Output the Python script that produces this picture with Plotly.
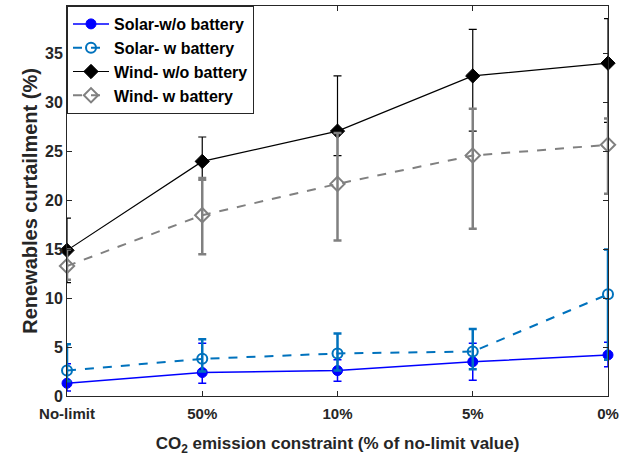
import plotly.graph_objects as go

categories = ["No-limit", "50%", "10%", "5%", "0%"]

solar_wo = [1.3, 2.4, 2.6, 3.5, 4.2]
solar_wo_hi = [3.3, 5.4, 3.7, 5.4, 5.5]
solar_wo_lo = [0.5, 1.3, 1.5, 1.6, 3.0]

solar_w = [2.6, 3.8, 4.35, 4.55, 10.4]
solar_w_hi = [5.3, 5.8, 6.4, 6.85, 15.0]
solar_w_lo = [1.5, 2.5, 2.6, 2.74, 3.7]

wind_wo = [14.9, 24.0, 27.1, 32.75, 34.05]
wind_wo_hi = [18.2, 26.5, 32.75, 37.5, 38.6]
wind_wo_lo = [11.6, 22.1, 24.6, 27.1, 28.0]

wind_w = [13.3, 18.5, 21.7, 24.6, 25.7]
wind_w_hi = [15.0, 22.3, 26.9, 29.4, 28.4]
wind_w_lo = [11.9, 14.5, 15.9, 17.1, 20.7]

y_ticks = [0, 5, 10, 15, 20, 25, 30, 35]

FONT = "Arial, Liberation Sans, sans-serif"
TXT = "#262626"


def err(vals, hi, lo, color, thick, w):
    return dict(type="data", symmetric=False,
                array=[h - v for h, v in zip(hi, vals)],
                arrayminus=[v - l for v, l in zip(vals, lo)],
                color=color, thickness=thick, width=w)


fig = go.Figure()

fig.add_trace(go.Scatter(
    x=categories, y=solar_wo, name="Solar-w/o battery", mode="lines+markers",
    line=dict(color="#0000FF", width=1.5),
    marker=dict(symbol="circle", size=10, color="#0000FF", line=dict(color="#0000FF", width=1)),
    error_y=err(solar_wo, solar_wo_hi, solar_wo_lo, "#0000FF", 1.5, 4),
    cliponaxis=False))

fig.add_trace(go.Scatter(
    x=categories, y=solar_w, name="Solar- w battery", mode="lines+markers",
    line=dict(color="#0072BD", width=2, dash="dash"),
    marker=dict(symbol="circle-open", size=10, color="#0072BD", line=dict(color="#0072BD", width=2)),
    error_y=err(solar_w, solar_w_hi, solar_w_lo, "#0072BD", 2.5, 4),
    cliponaxis=False))

fig.add_trace(go.Scatter(
    x=categories, y=wind_wo, name="Wind- w/o battery", mode="lines+markers",
    line=dict(color="#000000", width=1.2),
    marker=dict(symbol="diamond", size=11, color="#000000", line=dict(color="#000000", width=1)),
    error_y=err(wind_wo, wind_wo_hi, wind_wo_lo, "#000000", 1.2, 4),
    cliponaxis=False))

fig.add_trace(go.Scatter(
    x=categories, y=wind_w, name="Wind- w battery", mode="lines+markers",
    line=dict(color="#808080", width=2, dash="dash"),
    marker=dict(symbol="diamond-open", size=11, color="#808080", line=dict(color="#808080", width=2)),
    error_y=err(wind_w, wind_w_hi, wind_w_lo, "#808080", 2.5, 4),
    cliponaxis=False))

fig.update_layout(
    width=630, height=457,
    margin=dict(l=67, r=22, t=6, b=61, autoexpand=False),
    paper_bgcolor="white", plot_bgcolor="white",
    font=dict(family=FONT, color=TXT, size=15, weight="bold"),
    showlegend=True,
    legend=dict(x=0, y=1, xanchor="left", yanchor="top",
                bgcolor="white", bordercolor=TXT, borderwidth=1,
                font=dict(family=FONT, size=16, color="#000000", weight="bold"),
                tracegroupgap=0, itemwidth=36,
                entrywidthmode="pixels", entrywidth=150),
)

fig.update_xaxes(
    type="category", categoryorder="array", categoryarray=categories,
    range=[0, len(categories) - 1], automargin=False,
    showgrid=False, zeroline=False,
    showline=True, linecolor=TXT, linewidth=1, mirror="ticks",
    ticks="inside", ticklen=5, tickcolor=TXT, ticklabelstandoff=4,
    tickfont=dict(family=FONT, size=15, color=TXT, weight="bold"),
    title=dict(text="CO<sub>2</sub> emission constraint (% of no-limit value)",
               font=dict(family=FONT, size=17, color=TXT, weight="bold"), standoff=16),
)

fig.update_yaxes(
    range=[0, 39.9], tickvals=y_ticks, automargin=False,
    showgrid=False, zeroline=False,
    showline=True, linecolor=TXT, linewidth=1, mirror="ticks",
    ticks="inside", ticklen=5, tickcolor=TXT,
    tickfont=dict(family=FONT, size=16, color=TXT, weight="bold"),
    title=dict(text="Renewables curtailment (%)",
               font=dict(family=FONT, size=20, color=TXT, weight="bold"), standoff=2),
)

fig.write_html("out.html", config={"displayModeBar": False},
               post_script="document.body.style.margin='0';document.body.style.padding='0';")
